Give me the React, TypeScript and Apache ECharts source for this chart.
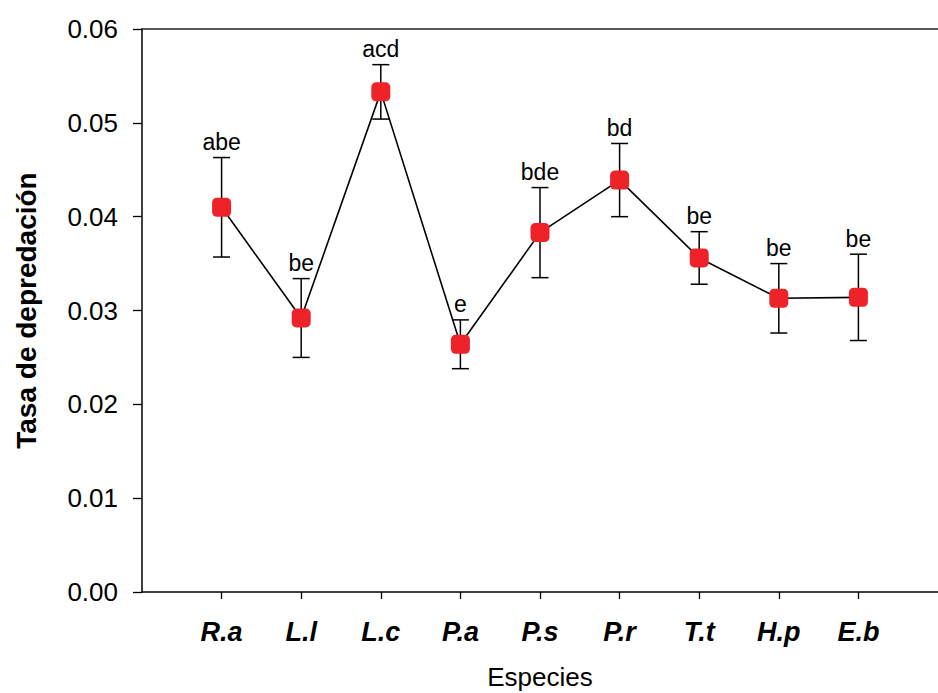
import React, { useEffect, useRef } from "react";
import * as echarts from "echarts";

// Species codes along the x axis
const species = ["R.a", "L.l", "L.c", "P.a", "P.s", "P.r", "T.t", "H.p", "E.b"];
// Mean predation rate per species
const means = [0.0410, 0.0292, 0.0533, 0.0264, 0.0383, 0.0439, 0.0356, 0.0313, 0.0314];
// Standard error per species
const errors = [0.0053, 0.0042, 0.0029, 0.0026, 0.0048, 0.0039, 0.0028, 0.0037, 0.0046];
// Significance groupings shown above each error bar
const groups = ["abe", "be", "acd", "e", "bde", "bd", "be", "be", "be"];
// Y axis ticks
const yTicks = [0, 0.01, 0.02, 0.03, 0.04, 0.05, 0.06];

const FONT = "Liberation Sans, Arial, Helvetica, sans-serif";

export default function App() {
  const ref = useRef<HTMLDivElement>(null);

  useEffect(() => {
    if (!ref.current) return;
    const chart = echarts.init(ref.current, null, { renderer: "svg" });
    const positions = species.map((_, i) => i + 1);

    const errData = means.map((m, i) => [positions[i], m - errors[i], m + errors[i], i]);

    chart.setOption({
      animation: false,
      backgroundColor: "#ffffff",
      grid: { left: 142, right: 0, top: 29, bottom: 101, outerBoundsMode: "none", containLabel: false },
      xAxis: [
        {
          type: "value",
          min: 0,
          max: 10,
          position: "bottom",
          axisLine: { show: true, lineStyle: { color: "#000", width: 1.5 } },
          axisTick: {
            show: true,
            customValues: positions,
            length: 7,
            inside: false,
            lineStyle: { color: "#000", width: 1.3 },
          },
          axisLabel: {
            customValues: positions,
            formatter: (v: number) => species[Math.round(v) - 1] ?? "",
            fontFamily: FONT,
            fontSize: 27,
            fontWeight: "bold",
            fontStyle: "italic",
            color: "#000",
            margin: 26,
          },
          splitLine: { show: false },
          name: "Especies",
          nameLocation: "middle",
          nameGap: 72,
          nameTextStyle: { fontFamily: FONT, fontSize: 26, lineHeight: 26, color: "#000" },
        },
        {
          type: "value",
          min: 0,
          max: 10,
          position: "top",
          axisLine: { show: true, onZero: false, lineStyle: { color: "#222", width: 1.5 } },
          axisTick: { show: false },
          axisLabel: { show: false },
          splitLine: { show: false },
        },
      ],
      yAxis: {
        type: "value",
        min: 0,
        max: 0.06,
        interval: 0.01,
        axisLine: { show: true, lineStyle: { color: "#000", width: 1.5 } },
        axisTick: { show: true, length: 9, inside: false, lineStyle: { color: "#000", width: 1.3 } },
        axisLabel: {
          customValues: yTicks,
          formatter: (v: number) => v.toFixed(2),
          fontFamily: FONT,
          fontSize: 26,
          color: "#000",
          margin: 24,
        },
        splitLine: { show: false },
        name: "Tasa de depredación",
        nameLocation: "middle",
        nameGap: 102,
        nameTextStyle: { fontFamily: FONT, fontSize: 28, fontWeight: "bold", color: "#000" },
      },
      series: [
        {
          type: "custom",
          xAxisIndex: 0,
          z: 1,
          data: errData,
          renderItem: (params: any, api: any) => {
            const x = api.value(0);
            const lo = api.coord([x, api.value(1)]);
            const hi = api.coord([x, api.value(2)]);
            const idx = api.value(3);
            const half = 8.5;
            const style = { stroke: "#000", lineWidth: 1.5 };
            return {
              type: "group",
              children: [
                { type: "line", shape: { x1: lo[0], y1: lo[1], x2: hi[0], y2: hi[1] }, style },
                { type: "line", shape: { x1: hi[0] - half, y1: hi[1], x2: hi[0] + half, y2: hi[1] }, style },
                { type: "line", shape: { x1: lo[0] - half, y1: lo[1], x2: lo[0] + half, y2: lo[1] }, style },
                {
                  type: "text",
                  x: hi[0],
                  y: hi[1] - 4,
                  style: {
                    text: groups[idx],
                    fontFamily: FONT,
                    fontSize: 23,
                    fill: "#000",
                    align: "center",
                    verticalAlign: "bottom",
                  },
                },
              ],
            };
          },
        },
        {
          type: "line",
          xAxisIndex: 0,
          z: 3,
          data: means.map((m, i) => [positions[i], m]),
          symbol: "roundRect",
          symbolSize: 19,
          itemStyle: { color: "#ee2229", borderWidth: 0 },
          lineStyle: { color: "#000", width: 1.6 },
        },
      ],
    });

    return () => chart.dispose();
  }, []);

  return (
    <div
      ref={ref}
      style={{ position: "absolute", left: 0, top: 0, width: 938, height: 693 }}
    />
  );
}
